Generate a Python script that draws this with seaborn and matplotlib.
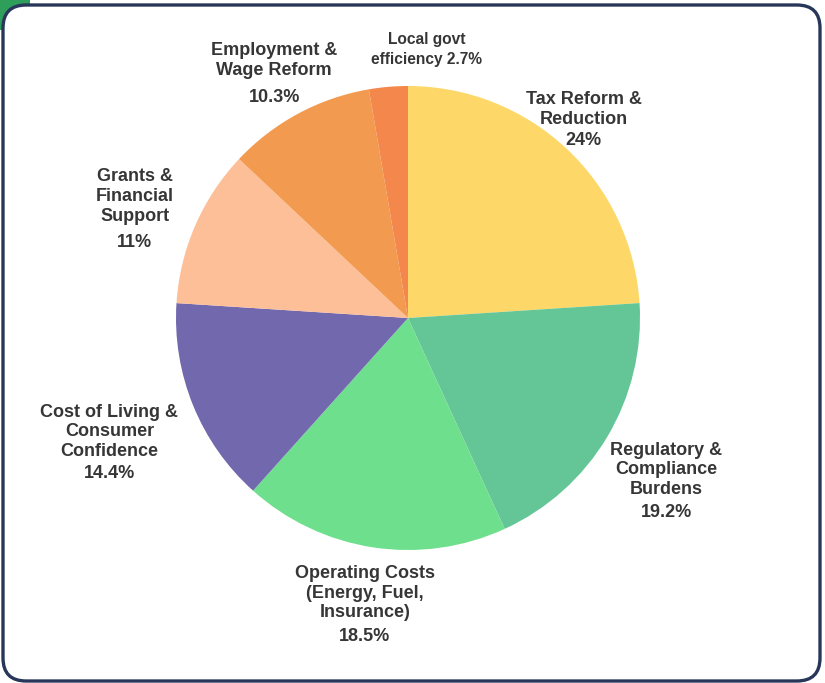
import numpy as np
import matplotlib
matplotlib.use("Agg")
import matplotlib.pyplot as plt
from matplotlib.patches import FancyBboxPatch, Rectangle
import seaborn as sns

# Survey shares by priority area (clockwise from 12 o'clock)
categories = [
    "Tax Reform &\nReduction",
    "Regulatory &\nCompliance\nBurdens",
    "Operating Costs\n(Energy, Fuel,\nInsurance)",
    "Cost of Living &\nConsumer\nConfidence",
    "Grants &\nFinancial\nSupport",
    "Employment &\nWage Reform",
    "Local govt\nefficiency",
]
shares = [24.0, 19.2, 18.5, 14.4, 11.0, 10.3, 2.7]
pct_labels = ["24%", "19.2%", "18.5%", "14.4%", "11%", "10.3%", "2.7%"]

# Styling
colors = ["#FDD868", "#64C596", "#6EDF8D", "#7168AE", "#FDBF98", "#F29A50", "#F4874B"]
label_radius = [1.15, 1.31, 1.24, 1.39, 1.27, 1.20, 1.16]
label_angle_nudge = [2.0, -1.0, 0.0, 0.0, 1.5, 0.5, -8.8]
label_size = [13.0, 13.0, 13.0, 13.0, 13.0, 13.0, 11.2]
pct_extra_gap = [-2.9, -2.2, -1.3, -2.9, 0.4, 1.1, 0.0]   # points
label_dy = [-2.2, -2.2, -2.0, -2.0, -1.5, 0.0, 0.0]       # points
pct_inline = [False, False, False, False, False, False, True]

sns.set_theme(style="white")
plt.rcParams["font.family"] = ["Liberation Sans", "DejaVu Sans"]

W, H, DPI = 825, 683, 100
fig = plt.figure(figsize=(W / DPI, H / DPI), dpi=DPI)
fig.patch.set_facecolor("white")

# Card frame with green accent in the top-left corner
fig.patches.append(Rectangle((0, 1 - 30 / H), 30 / W, 30 / H, transform=fig.transFigure,
                             facecolor="#2E9E5B", edgecolor="none", zorder=0))
fig.patches.append(FancyBboxPatch((3 / W, 2 / H), (W - 5) / W - 3 / W, (H - 5) / H - 2 / H,
                                  boxstyle="round,pad=0,rounding_size=0.028",
                                  transform=fig.transFigure, mutation_aspect=W / H,
                                  facecolor="white", edgecolor="#283759", linewidth=2.4,
                                  zorder=1))

R = 232.0
cx, cy = 408.0, 318.0
ax = fig.add_axes([0, 0, 1, 1])
ax.set_zorder(5)
ax.axis("off")
ax.patch.set_alpha(0)

wedges, _ = ax.pie(shares, colors=colors, startangle=90, counterclock=False,
                   radius=1.0, wedgeprops=dict(linewidth=0))
ax.set_aspect("equal")
ax.set_xlim(-cx / R, (W - cx) / R)
ax.set_ylim(-(H - cy) / R, cy / R)

text_kw = dict(ha="center", fontweight="bold", color="#363636",
               textcoords="offset points", annotation_clip=False)

for w, cat, pct, rf, nud, fs, gap, dy, inline in zip(wedges, categories, pct_labels,
                                                     label_radius, label_angle_nudge,
                                                     label_size, pct_extra_gap, label_dy,
                                                     pct_inline):
    mid = np.deg2rad((w.theta1 + w.theta2) / 2 + nud)
    x, y = rf * np.cos(mid), rf * np.sin(mid)
    line_h = fs * 1.14
    if inline:
        lines = cat.split("\n")
        block = "\n".join(lines[:-1] + [lines[-1] + " " + pct])
        ax.annotate(block, (x, y), xytext=(0, dy), va="center", fontsize=fs,
                    linespacing=1.35, **text_kw)
        continue
    n = cat.count("\n") + 1
    total = (n + 1) * line_h + gap
    ax.annotate(cat, (x, y), xytext=(0, dy + total / 2), va="top", fontsize=fs,
                linespacing=1.2, **text_kw)
    ax.annotate(pct, (x, y), xytext=(0, dy - total / 2), va="bottom", fontsize=fs,
                **text_kw)

fig.savefig("out.png", dpi=DPI)
